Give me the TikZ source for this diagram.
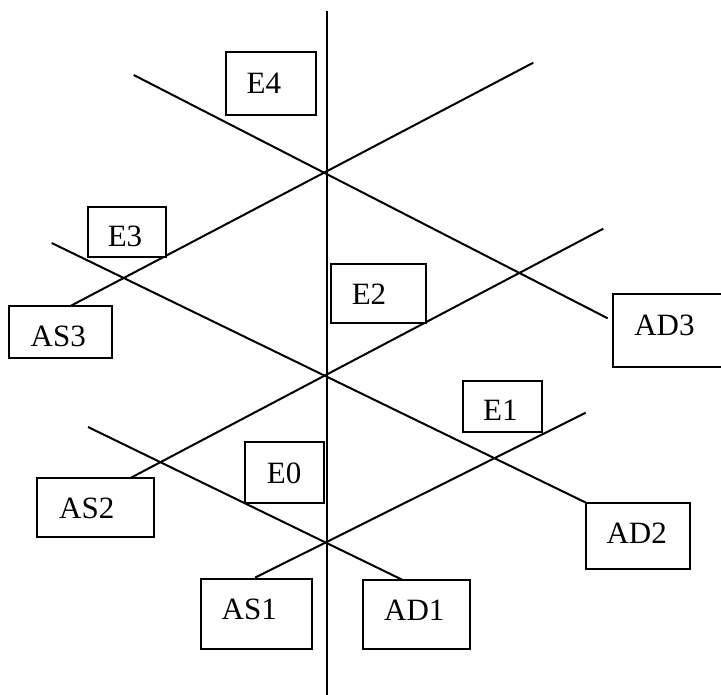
\documentclass[tikz,border=0pt]{standalone}
\usepackage{fontspec}
\setmainfont{Liberation Serif}
\begin{document}
\begin{tikzpicture}[x=1pt,y=-1pt,
  ln/.style={line width=2pt, line cap=butt},
  box/.style={draw, line width=2pt, inner sep=0pt, fill=white},
  lbl/.style={inner sep=0pt, font=\fontsize{31}{31}\selectfont}]
\useasboundingbox[fill=white] (0,0) rectangle (721,695);
% crossing points on the axis
\coordinate (c4) at (327,173);
\coordinate (c2) at (327,375);
\coordinate (c0) at (327,542.7);
\coordinate (top) at (327,11);
\coordinate (bot) at (327,695);
% free ends of the slanted lines
\coordinate (a1) at (133.7,75);
\coordinate (b1) at (607.7,318.3);
\coordinate (a2) at (71,305.7);
\coordinate (b2) at (533.3,62.7);
\coordinate (a3) at (51.7,243);
\coordinate (b3) at (586,502.7);
\coordinate (a4) at (131,477.7);
\coordinate (b4) at (603.3,228.7);
\coordinate (a5) at (88,427);
\coordinate (b5) at (402.7,580);
\coordinate (a6) at (255,577.7);
\coordinate (b6) at (585.7,412.7);
% lines
\draw[ln] (top) -- (bot);
\draw[ln] (a1) -- (b1);
\draw[ln] (a2) -- (b2);
\draw[ln] (a3) -- (b3);
\draw[ln] (a4) -- (b4);
\draw[ln] (a5) -- (b5);
\draw[ln] (a6) -- (b6);
% boxes
\node[box, minimum width=90pt, minimum height=62.4pt] (e4) at (270.7,83.5) {};
\node[box, minimum width=78pt, minimum height=50.3pt] (e3) at (126.7,231.8) {};
\node[box, minimum width=102.4pt, minimum height=52pt] (as3) at (60.5,332) {};
\node[box, minimum width=95pt, minimum height=58.4pt] (e2) at (378.5,293.5) {};
\node[box, minimum width=110pt, minimum height=72.4pt] (ad3) at (668.3,330.5) {};
\node[box, minimum width=78.4pt, minimum height=51.6pt] (e1) at (502.5,406.5) {};
\node[box, minimum width=78.4pt, minimum height=60.7pt] (e0) at (284.5,472.3) {};
\node[box, minimum width=117pt, minimum height=58.7pt] (as2) at (95.5,507.3) {};
\node[box, minimum width=110.7pt, minimum height=70pt] (as1) at (256.7,613.7) {};
\node[box, minimum width=104.3pt, minimum height=66.3pt] (ad2) at (637.8,535.8) {};
\node[box, minimum width=106.7pt, minimum height=68.4pt] (ad1) at (416.7,614.5) {};
% labels
\node[lbl] (t-e4) at (263.8,83.8) {E4};
\node[lbl] (t-e3) at (125,236) {E3};
\node[lbl] (t-as3) at (58.3,336) {AS3};
\node[lbl] (t-e2) at (369,294) {E2};
\node[lbl] (t-ad3) at (664.5,325) {AD3};
\node[lbl] (t-e1) at (500.3,410.5) {E1};
\node[lbl] (t-e0) at (284.2,473.3) {E0};
\node[lbl] (t-as2) at (86.7,508.5) {AS2};
\node[lbl] (t-as1) at (249.3,609.5) {AS1};
\node[lbl] (t-ad2) at (636.7,533.3) {AD2};
\node[lbl] (t-ad1) at (414.3,610.5) {AD1};
\end{tikzpicture}
\end{document}
